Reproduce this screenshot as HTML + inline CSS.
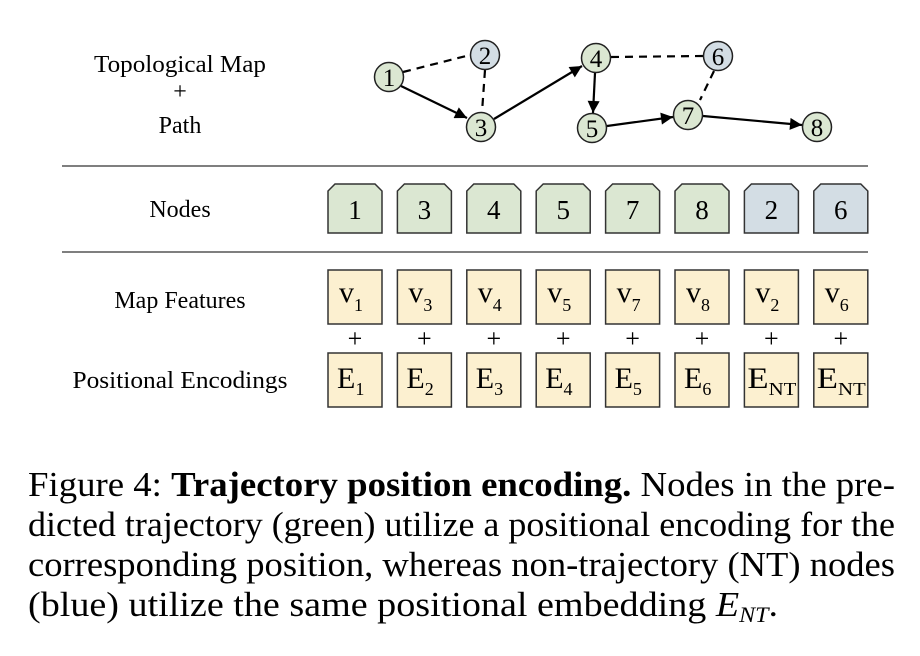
<!DOCTYPE html>
<html><head><meta charset="utf-8"><style>html,body{margin:0;padding:0;background:#fff;width:920px;height:656px;overflow:hidden}</style></head>
<body>
<svg width="920" height="656" viewBox="0 0 920 656" xmlns="http://www.w3.org/2000/svg" font-family="Liberation Serif, serif">
<defs>
<marker id="a" viewBox="0 0 10 10" refX="10" refY="5" markerWidth="14" markerHeight="12" orient="auto" markerUnits="userSpaceOnUse"><path d="M0,0 L10,5 L0,10 z" fill="#000"/></marker>
</defs>
<g font-size="24" text-anchor="middle" fill="#000">
<text x="180" y="72" textLength="172" lengthAdjust="spacingAndGlyphs">Topological Map</text>
<text x="180" y="99">+</text>
<text x="180" y="133">Path</text>
<text x="180" y="217">Nodes</text>
<text x="180" y="308">Map Features</text>
<text x="180" y="388" textLength="215" lengthAdjust="spacingAndGlyphs">Positional Encodings</text>
</g>
<line x1="62" y1="166" x2="868" y2="166" stroke="#555" stroke-width="1.5"/>
<line x1="62" y1="252" x2="868" y2="252" stroke="#555" stroke-width="1.5"/>
<g stroke="#000" stroke-width="2.2" fill="none">
<line x1="403" y1="72" x2="470" y2="55" stroke-dasharray="8,6"/>
<line x1="485" y1="70" x2="482" y2="112" stroke-dasharray="8,6"/>
<line x1="611" y1="57" x2="703" y2="56" stroke-dasharray="8,6"/>
<line x1="714" y1="71" x2="700" y2="100" stroke-dasharray="8,6"/>
<line x1="401" y1="86" x2="467" y2="118" marker-end="url(#a)"/>
<line x1="494" y1="119" x2="582" y2="66" marker-end="url(#a)"/>
<line x1="595" y1="73" x2="593" y2="113" marker-end="url(#a)"/>
<line x1="607" y1="126" x2="673" y2="117" marker-end="url(#a)"/>
<line x1="703" y1="116" x2="802" y2="125" marker-end="url(#a)"/>
</g>
<g stroke="#222" stroke-width="1.5" font-size="25" text-anchor="middle">
<circle cx="389" cy="77" r="14.5" fill="#dbe7d2"/><text x="389" y="86" stroke="none">1</text>
<circle cx="485" cy="55" r="14.5" fill="#d3dde4"/><text x="485" y="64" stroke="none">2</text>
<circle cx="481" cy="127" r="14.5" fill="#dbe7d2"/><text x="481" y="136" stroke="none">3</text>
<circle cx="596" cy="58" r="14.5" fill="#dbe7d2"/><text x="596" y="67" stroke="none">4</text>
<circle cx="592" cy="128" r="14.5" fill="#dbe7d2"/><text x="592" y="137" stroke="none">5</text>
<circle cx="718" cy="56" r="14.5" fill="#d3dde4"/><text x="718" y="65" stroke="none">6</text>
<circle cx="688" cy="115" r="14.5" fill="#dbe7d2"/><text x="688" y="124" stroke="none">7</text>
<circle cx="817" cy="127" r="14.5" fill="#dbe7d2"/><text x="817" y="136" stroke="none">8</text>
</g>
<g stroke="#333" stroke-width="1.5" font-size="27" text-anchor="middle">
<g transform="translate(328,0)"><path d="M0,233 V191 L7,184 H47 L54,191 V233 Z" fill="#dbe7d2"/><text x="27" y="219" stroke="none">1</text></g>
<g transform="translate(397.4,0)"><path d="M0,233 V191 L7,184 H47 L54,191 V233 Z" fill="#dbe7d2"/><text x="27" y="219" stroke="none">3</text></g>
<g transform="translate(466.8,0)"><path d="M0,233 V191 L7,184 H47 L54,191 V233 Z" fill="#dbe7d2"/><text x="27" y="219" stroke="none">4</text></g>
<g transform="translate(536.2,0)"><path d="M0,233 V191 L7,184 H47 L54,191 V233 Z" fill="#dbe7d2"/><text x="27" y="219" stroke="none">5</text></g>
<g transform="translate(605.6,0)"><path d="M0,233 V191 L7,184 H47 L54,191 V233 Z" fill="#dbe7d2"/><text x="27" y="219" stroke="none">7</text></g>
<g transform="translate(675,0)"><path d="M0,233 V191 L7,184 H47 L54,191 V233 Z" fill="#dbe7d2"/><text x="27" y="219" stroke="none">8</text></g>
<g transform="translate(744.4,0)"><path d="M0,233 V191 L7,184 H47 L54,191 V233 Z" fill="#d3dde4"/><text x="27" y="219" stroke="none">2</text></g>
<g transform="translate(813.8,0)"><path d="M0,233 V191 L7,184 H47 L54,191 V233 Z" fill="#d3dde4"/><text x="27" y="219" stroke="none">6</text></g>
</g>
<g stroke="#333" stroke-width="1.5" font-size="30">
<g transform="translate(328,0)"><rect x="0" y="270" width="54" height="54" fill="#fcf0d0"/><text x="11" y="302" stroke="none">v<tspan font-size="18" dy="9">1</tspan></text><text x="27" y="347" font-size="26" text-anchor="middle" stroke="none">+</text><rect x="0" y="353" width="54" height="54" fill="#fcf0d0"/><text x="9" y="388" stroke="none">E<tspan font-size="18" dy="7">1</tspan></text></g>
<g transform="translate(397.4,0)"><rect x="0" y="270" width="54" height="54" fill="#fcf0d0"/><text x="11" y="302" stroke="none">v<tspan font-size="18" dy="9">3</tspan></text><text x="27" y="347" font-size="26" text-anchor="middle" stroke="none">+</text><rect x="0" y="353" width="54" height="54" fill="#fcf0d0"/><text x="9" y="388" stroke="none">E<tspan font-size="18" dy="7">2</tspan></text></g>
<g transform="translate(466.8,0)"><rect x="0" y="270" width="54" height="54" fill="#fcf0d0"/><text x="11" y="302" stroke="none">v<tspan font-size="18" dy="9">4</tspan></text><text x="27" y="347" font-size="26" text-anchor="middle" stroke="none">+</text><rect x="0" y="353" width="54" height="54" fill="#fcf0d0"/><text x="9" y="388" stroke="none">E<tspan font-size="18" dy="7">3</tspan></text></g>
<g transform="translate(536.2,0)"><rect x="0" y="270" width="54" height="54" fill="#fcf0d0"/><text x="11" y="302" stroke="none">v<tspan font-size="18" dy="9">5</tspan></text><text x="27" y="347" font-size="26" text-anchor="middle" stroke="none">+</text><rect x="0" y="353" width="54" height="54" fill="#fcf0d0"/><text x="9" y="388" stroke="none">E<tspan font-size="18" dy="7">4</tspan></text></g>
<g transform="translate(605.6,0)"><rect x="0" y="270" width="54" height="54" fill="#fcf0d0"/><text x="11" y="302" stroke="none">v<tspan font-size="18" dy="9">7</tspan></text><text x="27" y="347" font-size="26" text-anchor="middle" stroke="none">+</text><rect x="0" y="353" width="54" height="54" fill="#fcf0d0"/><text x="9" y="388" stroke="none">E<tspan font-size="18" dy="7">5</tspan></text></g>
<g transform="translate(675,0)"><rect x="0" y="270" width="54" height="54" fill="#fcf0d0"/><text x="11" y="302" stroke="none">v<tspan font-size="18" dy="9">8</tspan></text><text x="27" y="347" font-size="26" text-anchor="middle" stroke="none">+</text><rect x="0" y="353" width="54" height="54" fill="#fcf0d0"/><text x="9" y="388" stroke="none">E<tspan font-size="18" dy="7">6</tspan></text></g>
<g transform="translate(744.4,0)"><rect x="0" y="270" width="54" height="54" fill="#fcf0d0"/><text x="11" y="302" stroke="none">v<tspan font-size="18" dy="9">2</tspan></text><text x="27" y="347" font-size="26" text-anchor="middle" stroke="none">+</text><rect x="0" y="353" width="54" height="54" fill="#fcf0d0"/><text x="3" y="388" stroke="none" textLength="49" lengthAdjust="spacingAndGlyphs">E<tspan font-size="18" dy="7">NT</tspan></text></g>
<g transform="translate(813.8,0)"><rect x="0" y="270" width="54" height="54" fill="#fcf0d0"/><text x="11" y="302" stroke="none">v<tspan font-size="18" dy="9">6</tspan></text><text x="27" y="347" font-size="26" text-anchor="middle" stroke="none">+</text><rect x="0" y="353" width="54" height="54" fill="#fcf0d0"/><text x="3" y="388" stroke="none" textLength="49" lengthAdjust="spacingAndGlyphs">E<tspan font-size="18" dy="7">NT</tspan></text></g>
</g>
<g font-size="35" fill="#000">
<text x="28" y="496" textLength="867" lengthAdjust="spacingAndGlyphs">Figure 4: <tspan font-weight="bold">Trajectory position encoding.</tspan> Nodes in the pre-</text>
<text x="28" y="536" textLength="867" lengthAdjust="spacingAndGlyphs">dicted trajectory (green) utilize a positional encoding for the</text>
<text x="28" y="576" textLength="867" lengthAdjust="spacingAndGlyphs">corresponding position, whereas non-trajectory (NT) nodes</text>
<text x="28" y="616" textLength="750" lengthAdjust="spacingAndGlyphs">(blue) utilize the same positional embedding <tspan font-style="italic">E</tspan><tspan font-style="italic" font-size="22" dy="6">NT</tspan><tspan dy="-6">.</tspan></text>
</g>
</svg>
</body></html>
